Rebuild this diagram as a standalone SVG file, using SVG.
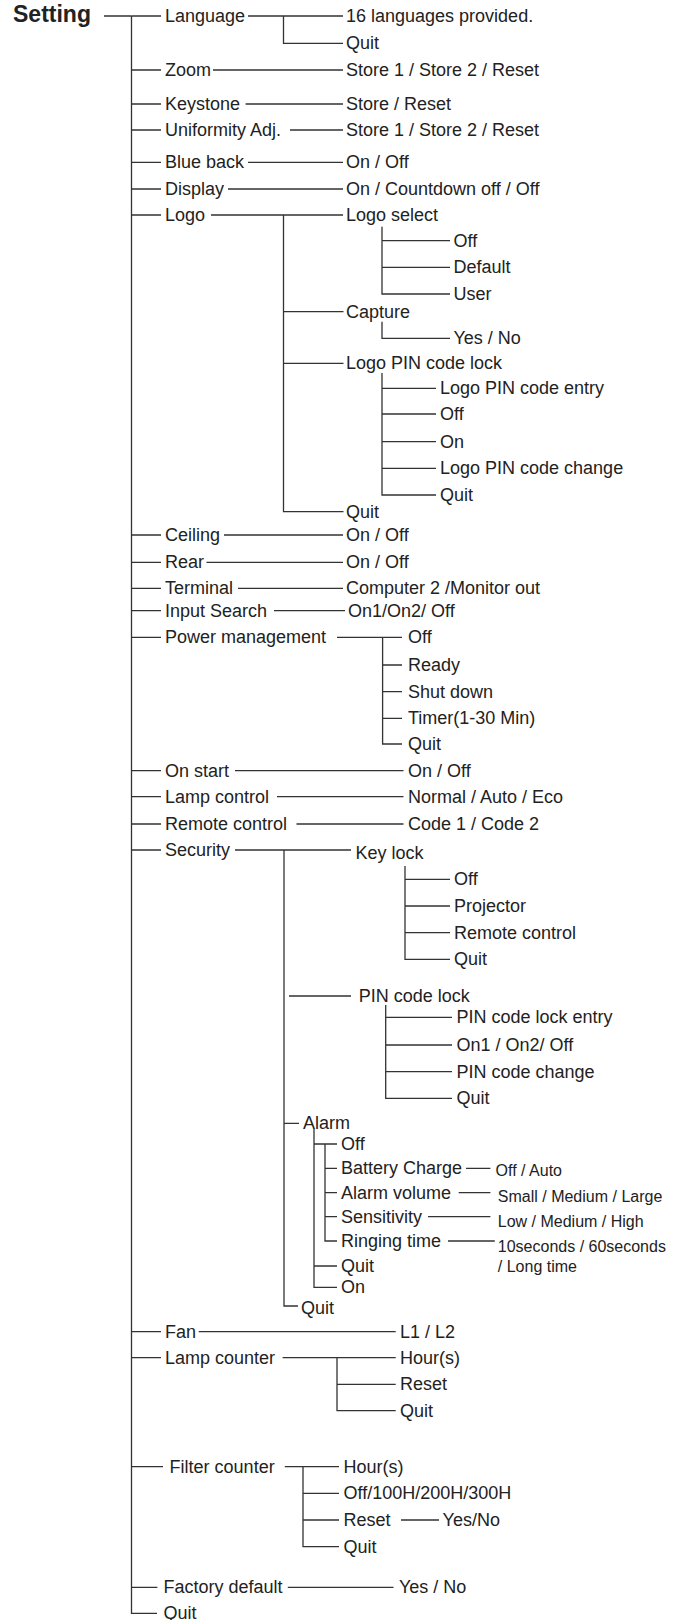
<svg xmlns="http://www.w3.org/2000/svg" width="681" height="1620" viewBox="0 0 681 1620">
<style>
text{font-family:"Liberation Sans",Arial,Helvetica,sans-serif;font-size:18px;fill:#222}
.b{font-weight:bold;font-size:23px}
.s{font-size:16px}
.c path{stroke:#333;stroke-width:1.3;fill:none}
</style>
<rect width="681" height="1620" fill="#fff"/>
<g class="c" id="connectors">
<path d="M104 16H131.5M131.5 16V1613.3H157"/>
<path d="M131.5 16H161M131.5 70H161M131.5 104H161M131.5 130H161M131.5 162.3H161M131.5 189H161M131.5 215H161M131.5 535H161M131.5 562.3H161M131.5 588.3H161M131.5 610.7H161M131.5 637.3H161M131.5 770.7H161M131.5 796.7H161M131.5 824H161M131.5 850H161M131.5 1331.7H161M131.5 1357.7H161M131.5 1466.7H163M131.5 1587.3H157.4"/>
<path d="M248 16H343M283.5 16V43.3H343"/>
<path d="M213 70H343M245.6 104H343M290 130H343M248 162.3H343M228 189H343"/>
<path d="M211 215H343M283.5 215V511.7H343.5M283.5 311.7H343.5M283.5 363.3H343.5"/>
<path d="M382 226.7V294H450M382 240.7H450M382 267.3H450"/>
<path d="M382 321.7V338.3H450"/>
<path d="M382 373V495H436M382 388.3H436M382 414H436M382 441.7H436M382 468.3H436"/>
<path d="M224 535H343M206.5 562.3H343M238 588.3H343M274 610.7H345"/>
<path d="M337 637.3H402M382.6 637.3V744H402M382.6 665H402M382.6 691.7H402M382.6 718.3H402"/>
<path d="M235 770.7H403.5M277 796.7H403.5M296.5 824H403.5"/>
<path d="M235 850H351M284 850V1306H298"/>
<path d="M405 866V959.3H450M405 879.3H450M405 906H450M405 932.7H450"/>
<path d="M289 996H351M385.7 1005V1098.3H452M385.7 1017.3H452M385.7 1045H452M385.7 1071.7H452"/>
<path d="M284 1123.3H299M314 1129V1287.3H337M314 1144H337M314 1266H337M325 1144V1241H337M325 1168.3H337M325 1192.7H337M325 1216.7H337"/>
<path d="M466 1168.3H490.4M458.7 1192.7H490.4M428 1216.7H490.4M448 1241H494.8"/>
<path d="M198.7 1331.7H395.7M282.6 1357.7H395.7M337 1357.7V1410.7H395.7M337 1384.3H395.7"/>
<path d="M284.8 1466.7H339M303 1466.7V1546.7H339M303 1493.3H339M303 1520H339M401 1520H439"/>
<path d="M287.8 1587.3H393.5"/>
</g>
<g id="setting"><text class="b" x="13" y="22">Setting</text></g>
<g id="language"><text x="165" y="22">Language</text></g>
<g id="language-opts"><text x="346" y="22">16 languages provided.</text><text x="346" y="49.3">Quit</text></g>
<g id="zoom"><text x="165" y="76">Zoom</text><text x="346" y="76">Store 1 / Store 2 / Reset</text></g>
<g id="keystone"><text x="165" y="110">Keystone</text><text x="346" y="110">Store / Reset</text></g>
<g id="uniformity"><text x="165" y="136">Uniformity Adj.</text><text x="346" y="136">Store 1 / Store 2 / Reset</text></g>
<g id="blueback"><text x="165" y="168.3">Blue back</text><text x="346" y="168.3">On / Off</text></g>
<g id="display"><text x="165" y="195">Display</text><text x="346" y="195">On / Countdown off / Off</text></g>
<g id="logo"><text x="165" y="221">Logo</text></g>
<g id="logo-select"><text x="346" y="221">Logo select</text><text x="453.5" y="246.7">Off</text><text x="453.5" y="273.3">Default</text><text x="453.5" y="300">User</text></g>
<g id="capture"><text x="346" y="317.7">Capture</text><text x="453.5" y="344.3">Yes / No</text></g>
<g id="logo-pin"><text x="346" y="369.3">Logo PIN code lock</text><text x="440" y="394.3">Logo PIN code entry</text><text x="440" y="420">Off</text><text x="440" y="447.7">On</text><text x="440" y="474.3">Logo PIN code change</text><text x="440" y="501">Quit</text></g>
<g id="logo-quit"><text x="346" y="517.7">Quit</text></g>
<g id="ceiling"><text x="165" y="541">Ceiling</text><text x="346" y="541">On / Off</text></g>
<g id="rear"><text x="165" y="568.3">Rear</text><text x="346" y="568.3">On / Off</text></g>
<g id="terminal"><text x="165" y="594.3">Terminal</text><text x="346" y="594.3">Computer 2 /Monitor out</text></g>
<g id="input-search"><text x="165" y="616.7">Input Search</text><text x="348" y="616.7">On1/On2/ Off</text></g>
<g id="power"><text x="165" y="643.3">Power management</text><text x="408" y="643.3">Off</text><text x="408" y="671">Ready</text><text x="408" y="697.7">Shut down</text><text x="408" y="724.3">Timer(1-30 Min)</text><text x="408" y="750">Quit</text></g>
<g id="onstart"><text x="165" y="776.7">On start</text><text x="408" y="776.7">On / Off</text></g>
<g id="lamp-control"><text x="165" y="802.7">Lamp control</text><text x="408" y="802.7">Normal / Auto / Eco</text></g>
<g id="remote"><text x="165" y="830">Remote control</text><text x="408" y="830">Code 1 / Code 2</text></g>
<g id="security"><text x="165" y="856">Security</text></g>
<g id="keylock"><text x="355.6" y="859">Key lock</text><text x="454" y="885.3">Off</text><text x="454" y="912">Projector</text><text x="454" y="938.7">Remote control</text><text x="454" y="965.3">Quit</text></g>
<g id="pinlock"><text x="358.7" y="1002">PIN code lock</text><text x="456.5" y="1023.3">PIN code lock entry</text><text x="456.5" y="1051">On1 / On2/ Off</text><text x="456.5" y="1077.7">PIN code change</text><text x="456.5" y="1104.3">Quit</text></g>
<g id="alarm"><text x="303" y="1129.3">Alarm</text><text x="341" y="1150">Off</text><text x="341" y="1174.3">Battery Charge</text><text x="341" y="1198.7">Alarm volume</text><text x="341" y="1222.7">Sensitivity</text><text x="341" y="1247">Ringing time</text><text x="341" y="1272">Quit</text><text x="341" y="1293.3">On</text></g>
<g id="alarm-values"><text class="s" x="495.6" y="1175.7">Off / Auto</text><text class="s" x="497.8" y="1201.7">Small / Medium / Large</text><text class="s" x="497.8" y="1227.4">Low / Medium / High</text><text class="s" x="497.8" y="1252.4">10seconds / 60seconds</text><text class="s" x="497.8" y="1271.7">/ Long time</text></g>
<g id="security-quit"><text x="301" y="1314">Quit</text></g>
<g id="fan"><text x="165" y="1337.7">Fan</text><text x="400" y="1337.7">L1 / L2</text></g>
<g id="lamp-counter"><text x="165" y="1363.7">Lamp counter</text><text x="400" y="1363.7">Hour(s)</text><text x="400" y="1390.3">Reset</text><text x="400" y="1416.7">Quit</text></g>
<g id="filter-counter"><text x="169.6" y="1472.7">Filter counter</text><text x="343.5" y="1472.7">Hour(s)</text><text x="343.5" y="1499.3">Off/100H/200H/300H</text><text x="343.5" y="1526">Reset</text><text x="442.6" y="1526">Yes/No</text><text x="343.5" y="1552.7">Quit</text></g>
<g id="factory"><text x="163.5" y="1593.3">Factory default</text><text x="399" y="1593.3">Yes / No</text></g>
<g id="quit"><text x="163.5" y="1619">Quit</text></g>
</svg>
